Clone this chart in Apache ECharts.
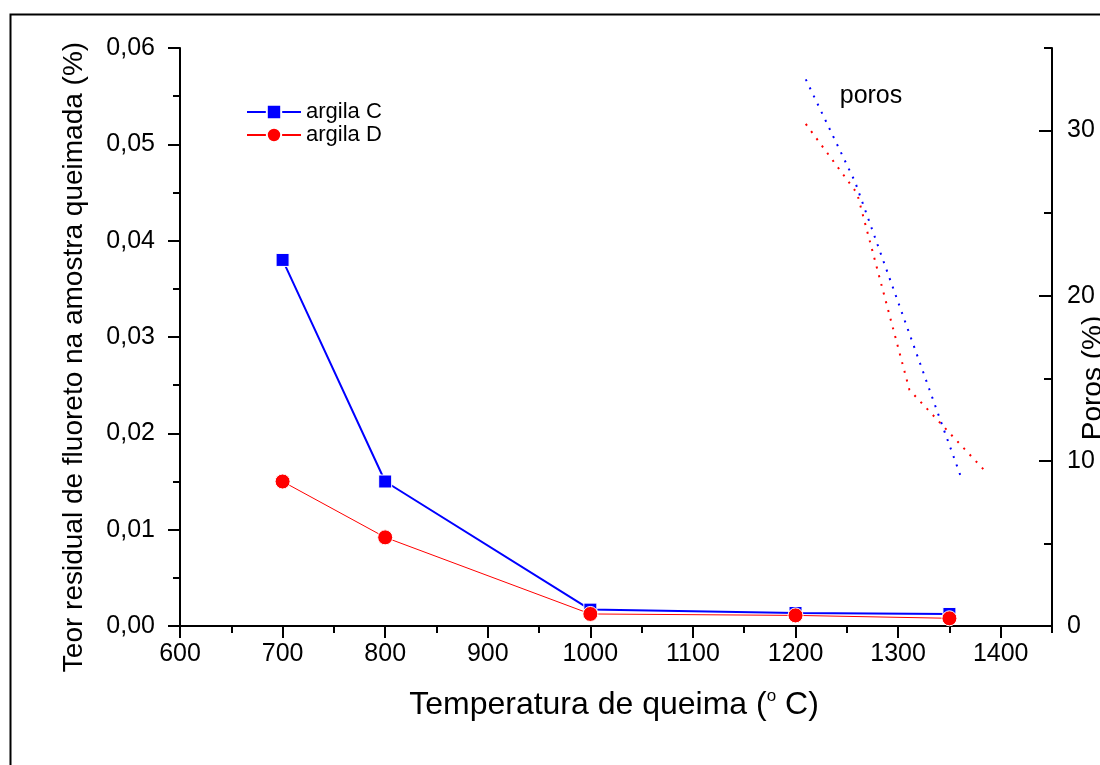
<!DOCTYPE html>
<html>
<head>
<meta charset="utf-8">
<script src="https://cdn.jsdelivr.net/npm/echarts@6/dist/echarts.min.js"></script>
<style>
html,body{margin:0;padding:0;background:#fff;}
#chart{width:1100px;height:765px;}
</style>
</head>
<body>
<div id="chart"></div>
<script>
// ---- data ----
const temperatures = [700, 800, 1000, 1200, 1350];
const argilaC = [0.038, 0.015, 0.0017, 0.00135, 0.00125];
const argilaD = [0.015, 0.0092, 0.00125, 0.0011, 0.0008];
const porosTempC = [1210, 1258, 1341, 1362];
const porosC = [33.1, 26.9, 12.5, 8.9];
const porosTempD = [1210, 1260, 1311, 1383];
const porosD = [30.4, 26.2, 14.3, 9.5];
const xTicks = [600, 700, 800, 900, 1000, 1100, 1200, 1300, 1400];

const FONT = '"Liberation Sans", Arial, sans-serif';
const chart = echarts.init(document.getElementById('chart'));

const pairs = (xs, ys) => xs.map((x, i) => [x, ys[i]]);

const option = {
  animation: false,
  backgroundColor: '#fff',
  textStyle: {fontFamily: FONT},
  grid: {left: 180, right: 48, top: 48, bottom: 139},
  legend: {
    orient: 'vertical',
    left: 241, top: 96,
    itemWidth: 54, itemHeight: 18, itemGap: 1,
    textStyle: {fontSize: 22, color: '#000', fontFamily: FONT},
    data: ['argila C', 'argila D']
  },
  xAxis: [
    { // major ticks + labels
      type: 'value', min: 600, max: 1450, interval: 100, position: 'bottom',
      axisLine: {show: true, lineStyle: {color: '#000', width: 2}},
      axisTick: {show: true, length: 12, lineStyle: {color: '#000', width: 2}},
      axisLabel: {show: true, fontSize: 25, color: '#000', margin: 16, showMaxLabel: false,
        formatter: v => xTicks.indexOf(v) >= 0 ? String(v) : ''},
      splitLine: {show: false}
    },
    { // minor ticks
      type: 'value', min: 600, max: 1450, interval: 50, position: 'bottom',
      axisLine: {show: false},
      axisTick: {show: true, length: 7, lineStyle: {color: '#000', width: 2}},
      axisLabel: {show: false},
      splitLine: {show: false}
    },
    { // top frame line
      type: 'value', min: 600, max: 1450, position: 'top',
      axisLine: {show: true, lineStyle: {color: '#000', width: 2}},
      axisTick: {show: false}, axisLabel: {show: false}, splitLine: {show: false}
    }
  ],
  yAxis: [
    {
      type: 'value', min: 0, max: 0.06, interval: 0.01, position: 'left',
      axisLine: {show: true, lineStyle: {color: '#000', width: 2}},
      axisTick: {show: true, length: 12, lineStyle: {color: '#000', width: 2}},
      minorTick: {show: true, splitNumber: 2, length: 7, lineStyle: {color: '#000', width: 2}},
      axisLabel: {fontSize: 25, color: '#000', margin: 25,
        formatter: v => v.toFixed(2).replace('.', ',')},
      splitLine: {show: false}
    },
    {
      type: 'value', min: 0, max: 35, interval: 10, position: 'right',
      axisLine: {show: true, lineStyle: {color: '#000', width: 2}},
      axisTick: {show: true, inside: true, length: 13, lineStyle: {color: '#000', width: 2}},
      axisLabel: {fontSize: 25, color: '#000', margin: 15, showMaxLabel: false,
        formatter: v => (v % 10 === 0 ? String(v) : '')},
      splitLine: {show: false}
    },
    {
      type: 'value', min: 0, max: 35, interval: 5, position: 'right',
      axisLine: {show: false},
      axisTick: {show: true, inside: true, length: 8, lineStyle: {color: '#000', width: 2}},
      axisLabel: {show: false},
      splitLine: {show: false}
    }
  ],
  series: [
    {
      name: 'argila C', type: 'line', xAxisIndex: 0, yAxisIndex: 0,
      data: pairs(temperatures, argilaC),
      symbol: 'rect', symbolSize: 13,
      lineStyle: {color: '#0000ff', width: 2},
      itemStyle: {color: '#0000ff', borderColor: '#fff', borderWidth: 1},
      z: 3
    },
    {
      name: 'argila D', type: 'line', xAxisIndex: 0, yAxisIndex: 0,
      data: pairs(temperatures, argilaD),
      symbol: 'circle', symbolSize: 15,
      lineStyle: {color: '#ff0000', width: 1},
      itemStyle: {color: '#ff0000', borderColor: '#fff', borderWidth: 1},
      z: 4
    },
    {
      name: 'poros C', type: 'line', xAxisIndex: 0, yAxisIndex: 1,
      data: pairs(porosTempC, porosC), showSymbol: false, symbol: 'none',
      lineStyle: {color: '#0000ff', width: 2, type: [2, 7]}
    },
    {
      name: 'poros D', type: 'line', xAxisIndex: 0, yAxisIndex: 1,
      data: pairs(porosTempD, porosD), showSymbol: false, symbol: 'none',
      lineStyle: {color: '#ff0000', width: 2, type: [2, 7]}
    }
  ],
  graphic: [
    {type: 'rect', left: 8, top: 12, shape: {x: 0, y: 0, width: 1200, height: 1000},
      style: {fill: 'none', stroke: '#000', lineWidth: 2}, silent: true, z: -1},
    {type: 'text', x: 74, y: 357, rotation: Math.PI / 2,
      style: {text: 'Teor residual de fluoreto na amostra queimada (%)', font: '28px ' + FONT,
        fill: '#000', textAlign: 'center', textVerticalAlign: 'middle'}},
    {type: 'text', x: 1093, y: 378, rotation: Math.PI / 2,
      style: {text: 'Poros (%)', font: '28px ' + FONT,
        fill: '#000', textAlign: 'center', textVerticalAlign: 'middle'}},
    {type: 'text', x: 614, y: 705,
      style: {text: '{a|Temperatura de queima (}{s|o}{a| C)}',
        textAlign: 'center', textVerticalAlign: 'middle',
        rich: {
          a: {fontSize: 32, fontFamily: FONT, fill: '#000', lineHeight: 34},
          s: {fontSize: 17, fontFamily: FONT, fill: '#000', lineHeight: 17, verticalAlign: 'top'}
        }}},
    {type: 'text', x: 871, y: 96,
      style: {text: 'poros', font: '25px ' + FONT, fill: '#000',
        textAlign: 'center', textVerticalAlign: 'middle'}}
  ]
};
chart.setOption(option);
</script>
</body>
</html>
